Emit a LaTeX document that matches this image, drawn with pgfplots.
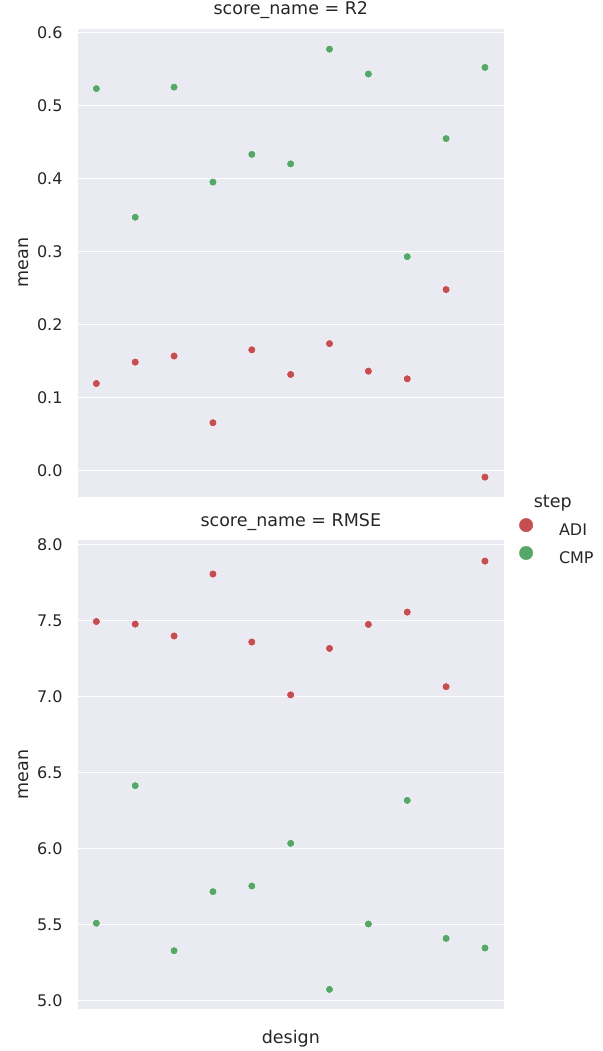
\documentclass[border=0pt]{standalone}
\usepackage{fontspec}
\setmainfont{DejaVu Sans}
\usepackage{pgfplots}
\pgfplotsset{compat=1.18}
\definecolor{bg}{HTML}{EAEAF2}
\definecolor{adi}{HTML}{C44E52}
\definecolor{cmp}{HTML}{55A868}
\definecolor{txt}{HTML}{262626}
\newcommand{\fs}{\fontsize{16}{19}\selectfont}
\newcommand{\fl}{\fontsize{17.5}{21}\selectfont}
\pgfplotsset{
  sbstyle/.style={
    scale only axis, width=426.3pt,
    xmin=-0.48, xmax=10.49,
    xtick=\empty,
    axis background/.style={fill=bg},
    axis line style={draw=none},
    major tick length=0pt,
    ymajorgrids, grid style={white, line width=1.2pt},
    yticklabel style={font=\fs, text=txt, anchor=east, inner sep=0pt, xshift=-15pt},
    /pgf/number format/assume math mode=true,
    /pgf/number format/fixed, /pgf/number format/fixed zerofill, /pgf/number format/precision=1,
    ylabel={mean},
    ylabel style={font=\fl, text=txt, at={(axis description cs:-0.1277,0.5)}, anchor=center},
    title style={font=\fl, text=txt, at={(axis description cs:0.5,1)}, anchor=base, yshift=8pt},
  },
  adim/.style={only marks, mark=*, mark size=4pt, mark options={fill=adi, draw=white, line width=0.5pt}},
  cmpm/.style={only marks, mark=*, mark size=4pt, mark options={fill=cmp, draw=white, line width=0.5pt}},
}
\begin{document}
\begin{tikzpicture}
\path[use as bounding box] (0,0) rectangle (602pt,-1051pt);
\begin{axis}[sbstyle, at={(77.7pt,-28.7pt)}, anchor=north west, height=468pt,
  ymin=-0.0355, ymax=0.605, ytick={0,0.1,0.2,0.3,0.4,0.5,0.6},
  title={score\_name = R2}]
\addplot[adim] coordinates {(0,0.1194) (1,0.1487) (2,0.157) (3,0.0657) (4,0.1655) (5,0.1318) (6,0.174) (7,0.1363) (8,0.1258) (9,0.248) (10,-0.0087)};
\addplot[cmpm] coordinates {(0,0.523) (1,0.347) (2,0.525) (3,0.395) (4,0.433) (5,0.420) (6,0.577) (7,0.543) (8,0.293) (9,0.4546) (10,0.552)};
\end{axis}
\begin{axis}[sbstyle, at={(77.7pt,-540.3pt)}, anchor=north west, height=468.7pt,
  ymin=4.943, ymax=8.030, ytick={5,5.5,6,6.5,7,7.5,8},
  title={score\_name = RMSE},
  xlabel={design},
  xlabel style={font=\fl, text=txt, at={(axis description cs:0.5,0)}, anchor=base, yshift=-34pt},
  legend style={at={(axis description cs:1.0352,1.0476)}, anchor=north west, draw=none, fill=none,
    inner sep=0pt, row sep=6.6pt, column sep=24pt, nodes={inner sep=2pt, font=\fs, text=txt}},
  legend cell align=left]
\addplot[adim, legend image code/.code={\fill[adi] (0pt,5.8pt) circle (6.7pt);}] coordinates {(0,7.495) (1,7.478) (2,7.400) (3,7.808) (4,7.360) (5,7.012) (6,7.318) (7,7.476) (8,7.557) (9,7.066) (10,7.893)};
\addlegendentry{ADI}
\addplot[cmpm, legend image code/.code={\fill[cmp] (0pt,5.8pt) circle (6.7pt);}] coordinates {(0,5.508) (1,6.414) (2,5.327) (3,5.716) (4,5.753) (5,6.034) (6,5.072) (7,5.503) (8,6.317) (9,5.408) (10,5.345)};
\addlegendentry{CMP}
\end{axis}
\node[font=\fl, text=txt, anchor=base] at (552.7pt,-507.3pt) {step};
\end{tikzpicture}
\end{document}
